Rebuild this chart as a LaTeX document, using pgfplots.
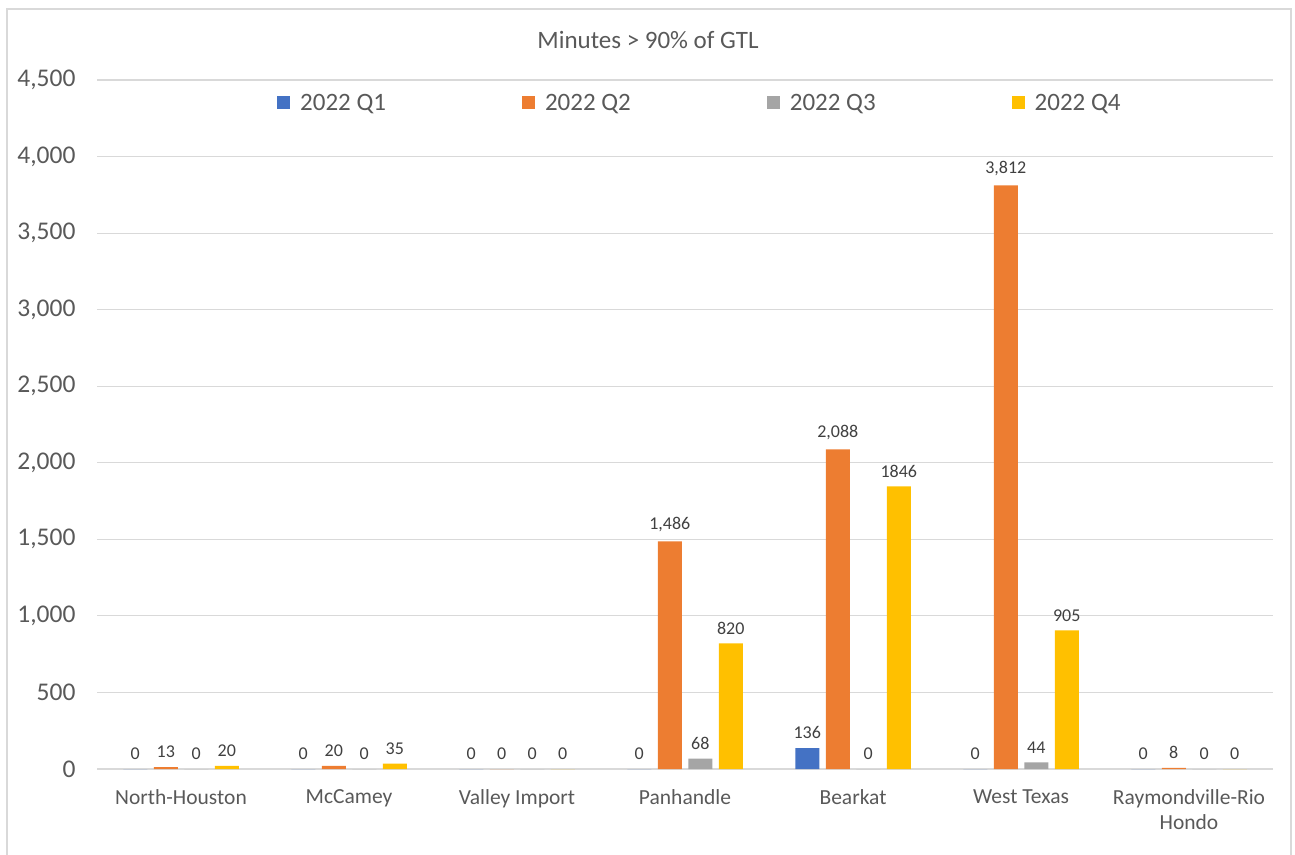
\documentclass[border=0pt]{standalone}
\usepackage{pgfplots}
\pgfplotsset{compat=1.18}
\usepackage{fontspec}
\setmainfont{Carlito}

\definecolor{qone}{HTML}{4472C4}
\definecolor{qtwo}{HTML}{ED7D31}
\definecolor{qthree}{HTML}{A5A5A5}
\definecolor{qfour}{HTML}{FFC000}
\definecolor{txt}{HTML}{595959}
\definecolor{lbl}{HTML}{404040}
\definecolor{gridc}{HTML}{D9D9D9}

\begin{document}
\begin{tikzpicture}[x=1pt,y=1pt]
\useasboundingbox (0,0) rectangle (1295,854);
% chart frame
\draw[gridc, line width=1.2pt] (7,-5) -- (7,845) -- (1291,845) -- (1291,-5);
% chart title
\node[text=txt, font=\fontsize{25}{30}\selectfont] at (648,814) {Minutes > 90\% of GTL};
\begin{axis}[
  at={(97pt,85pt)}, anchor=south west,
  scale only axis, width=1176pt, height=689pt,
  xmin=-0.5, xmax=6.5, ymin=0, ymax=4500,
  axis line style={draw=none},
  ytick={0,500,...,4500},
  ymajorgrids, xmajorgrids=false,
  grid style={gridc, line width=1.1pt},
  major tick length=0pt,
  xtick={0,...,6},
  xticklabels={North-Houston, McCamey, Valley Import, Panhandle, Bearkat, West Texas, {Raymondville-Rio\\Hondo}},
  xticklabel style={text=txt, font=\fontsize{21.5}{25.5}\selectfont, align=center, anchor=north, yshift=-17pt},
  yticklabel style={text=txt, font=\fontsize{25.5}{30}\selectfont, xshift=-18pt},
  /pgf/number format/assume math mode=true,
  /pgf/number format/1000 sep={,},
  scaled y ticks=false,
  ybar=6.5pt, bar width=24pt,
  nodes near coords,
  point meta=explicit symbolic,
  every node near coord/.append style={text=lbl, font=\fontsize{18}{21}\selectfont, anchor=south, inner sep=0pt, yshift=9pt},
  legend columns=4,
  legend style={draw=none, fill=none, at={(0.1505,0.967)}, anchor=west,
    font=\fontsize{25}{30}\selectfont, text=txt,
    /tikz/every odd column/.append style={column sep=8pt},
    /tikz/every even column/.append style={column sep=134pt}},
  legend image code/.code={\path[#1] (0pt,-6.5pt) rectangle (13pt,6.5pt);},
]
\addplot[draw=none, fill=qone] coordinates {
  (0,0) [0] (1,0) [0] (2,0) [0] (3,0) [0] (4,136) [136] (5,0) [0] (6,0) [0]};
\addplot[draw=none, fill=qtwo] coordinates {
  (0,13) [13] (1,20) [20] (2,0) [0] (3,1486) [{1,486}] (4,2088) [{2,088}] (5,3812) [{3,812}] (6,8) [8]};
\addplot[draw=none, fill=qthree] coordinates {
  (0,0) [0] (1,0) [0] (2,0) [0] (3,68) [68] (4,0) [0] (5,44) [44] (6,0) [0]};
\addplot[draw=none, fill=qfour] coordinates {
  (0,20) [20] (1,35) [35] (2,0) [0] (3,820) [820] (4,1846) [1846] (5,905) [905] (6,0) [0]};
\legend{2022 Q1, 2022 Q2, 2022 Q3, 2022 Q4}
\end{axis}
\end{tikzpicture}
\end{document}
